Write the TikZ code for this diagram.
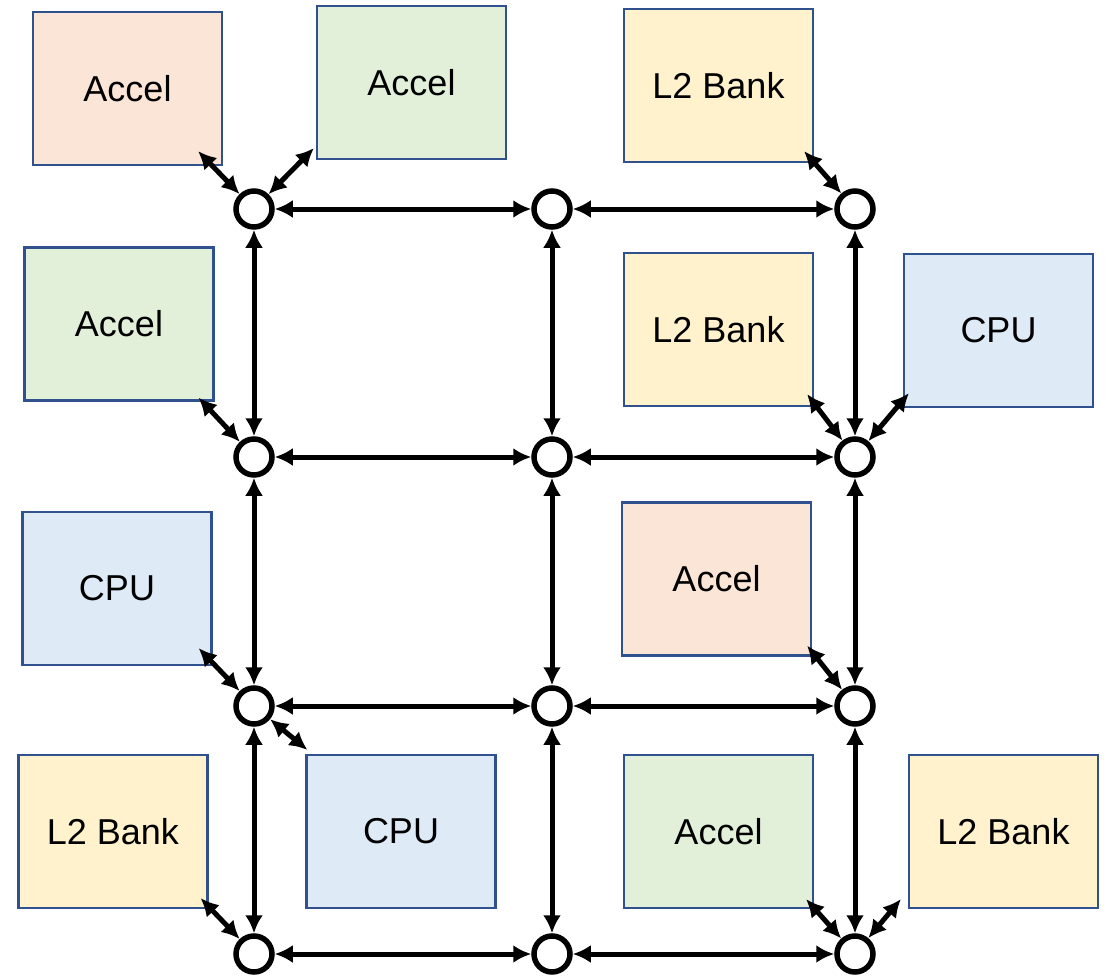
\documentclass[tikz,border=0pt]{standalone}
\usepackage{fontspec}
\setmainfont{Liberation Sans}
\usepackage{tikz}
\usetikzlibrary{arrows.meta,positioning}
\definecolor{TilePeach}{HTML}{FBE5D6}
\definecolor{TileGreen}{HTML}{E2F0D9}
\definecolor{TileYellow}{HTML}{FFF2CC}
\definecolor{TileBlue}{HTML}{DEEBF7}
\definecolor{TileEdge}{HTML}{2F528F}

\begin{document}
\begin{tikzpicture}[
  x=1pt,y=-1pt,
  tile/.style={rectangle,draw=TileEdge,line width=2.2pt,minimum width=189pt,minimum height=153pt,font=\fontsize{36}{40}\selectfont},
  router/.style={circle,draw=black,fill=white,line width=5.5pt,minimum size=36pt,inner sep=0pt},
  link/.style={{Latex[length=18pt,width=18pt]}-{Latex[length=18pt,width=18pt]},line width=5pt}
]
\useasboundingbox (0,0) rectangle (1109,977);
% tiles
\node[tile,fill=TilePeach] (a1) at (127.5,88.5) {Accel};
\node[tile,fill=TileGreen] (a2) at (411.5,82.5) {Accel};
\node[tile,fill=TileYellow] (l1) at (718.5,85.5) {L2 Bank};
\node[tile,fill=TileGreen] (a3) at (119,324) {Accel};
\node[tile,fill=TileYellow] (l2) at (718.5,329.5) {L2 Bank};
\node[tile,fill=TileBlue] (c1) at (998.5,330.5) {CPU};
\node[tile,fill=TileBlue] (c2) at (117,588.5) {CPU};
\node[tile,fill=TilePeach] (a4) at (716.5,579) {Accel};
\node[tile,fill=TileYellow] (l3) at (113,831.5) {L2 Bank};
\node[tile,fill=TileBlue] (c3) at (401,831.5) {CPU};
\node[tile,fill=TileGreen] (a5) at (718.5,831.5) {Accel};
\node[tile,fill=TileYellow] (l4) at (1003.5,831.5) {L2 Bank};
% routers
\node[router] (r11) at (254,209) {};
\node[router] (r12) at (552,209) {};
\node[router] (r13) at (855,209) {};
\node[router] (r21) at (254,457) {};
\node[router] (r22) at (552,457) {};
\node[router] (r23) at (855,457) {};
\node[router] (r31) at (254,706) {};
\node[router] (r32) at (552,706) {};
\node[router] (r33) at (855,706) {};
\node[router] (r41) at (254,954) {};
\node[router] (r42) at (552,954) {};
\node[router] (r43) at (855,954) {};
% mesh
\draw[link] (r11) -- (r12);
\draw[link] (r12) -- (r13);
\draw[link] (r21) -- (r22);
\draw[link] (r22) -- (r23);
\draw[link] (r31) -- (r32);
\draw[link] (r32) -- (r33);
\draw[link] (r41) -- (r42);
\draw[link] (r42) -- (r43);
\draw[link] (r11) -- (r21);
\draw[link] (r21) -- (r31);
\draw[link] (r31) -- (r41);
\draw[link] (r12) -- (r22);
\draw[link] (r22) -- (r32);
\draw[link] (r32) -- (r42);
\draw[link] (r13) -- (r23);
\draw[link] (r23) -- (r33);
\draw[link] (r33) -- (r43);
% tile ports
\draw[link] ([shift={(-25,-15)}]a1.south east) -- (r11);
\draw[link] ([shift={(-2,-12)}]a2.south west) -- (r11);
\draw[link] ([shift={(-10,-12)}]l1.south east) -- (r13);
\draw[link] ([shift={(-16,-4)}]a3.south east) -- (r21);
\draw[link] ([shift={(-7,-13)}]l2.south east) -- (r23);
\draw[link] ([shift={(6,-15)}]c1.south west) -- (r23);
\draw[link] ([shift={(-14,-18)}]c2.south east) -- (r31);
\draw[link] ([shift={(-5,-11)}]a4.south east) -- (r33);
\draw[link] ([shift={(2,-4)}]c3.north west) -- (r31);
\draw[link] ([shift={(-8,-11)}]l3.south east) -- (r41);
\draw[link] ([shift={(-8,-10)}]a5.south east) -- (r43);
\draw[link] ([shift={(-7,-10)}]l4.south west) -- (r43);
\end{tikzpicture}
\end{document}
